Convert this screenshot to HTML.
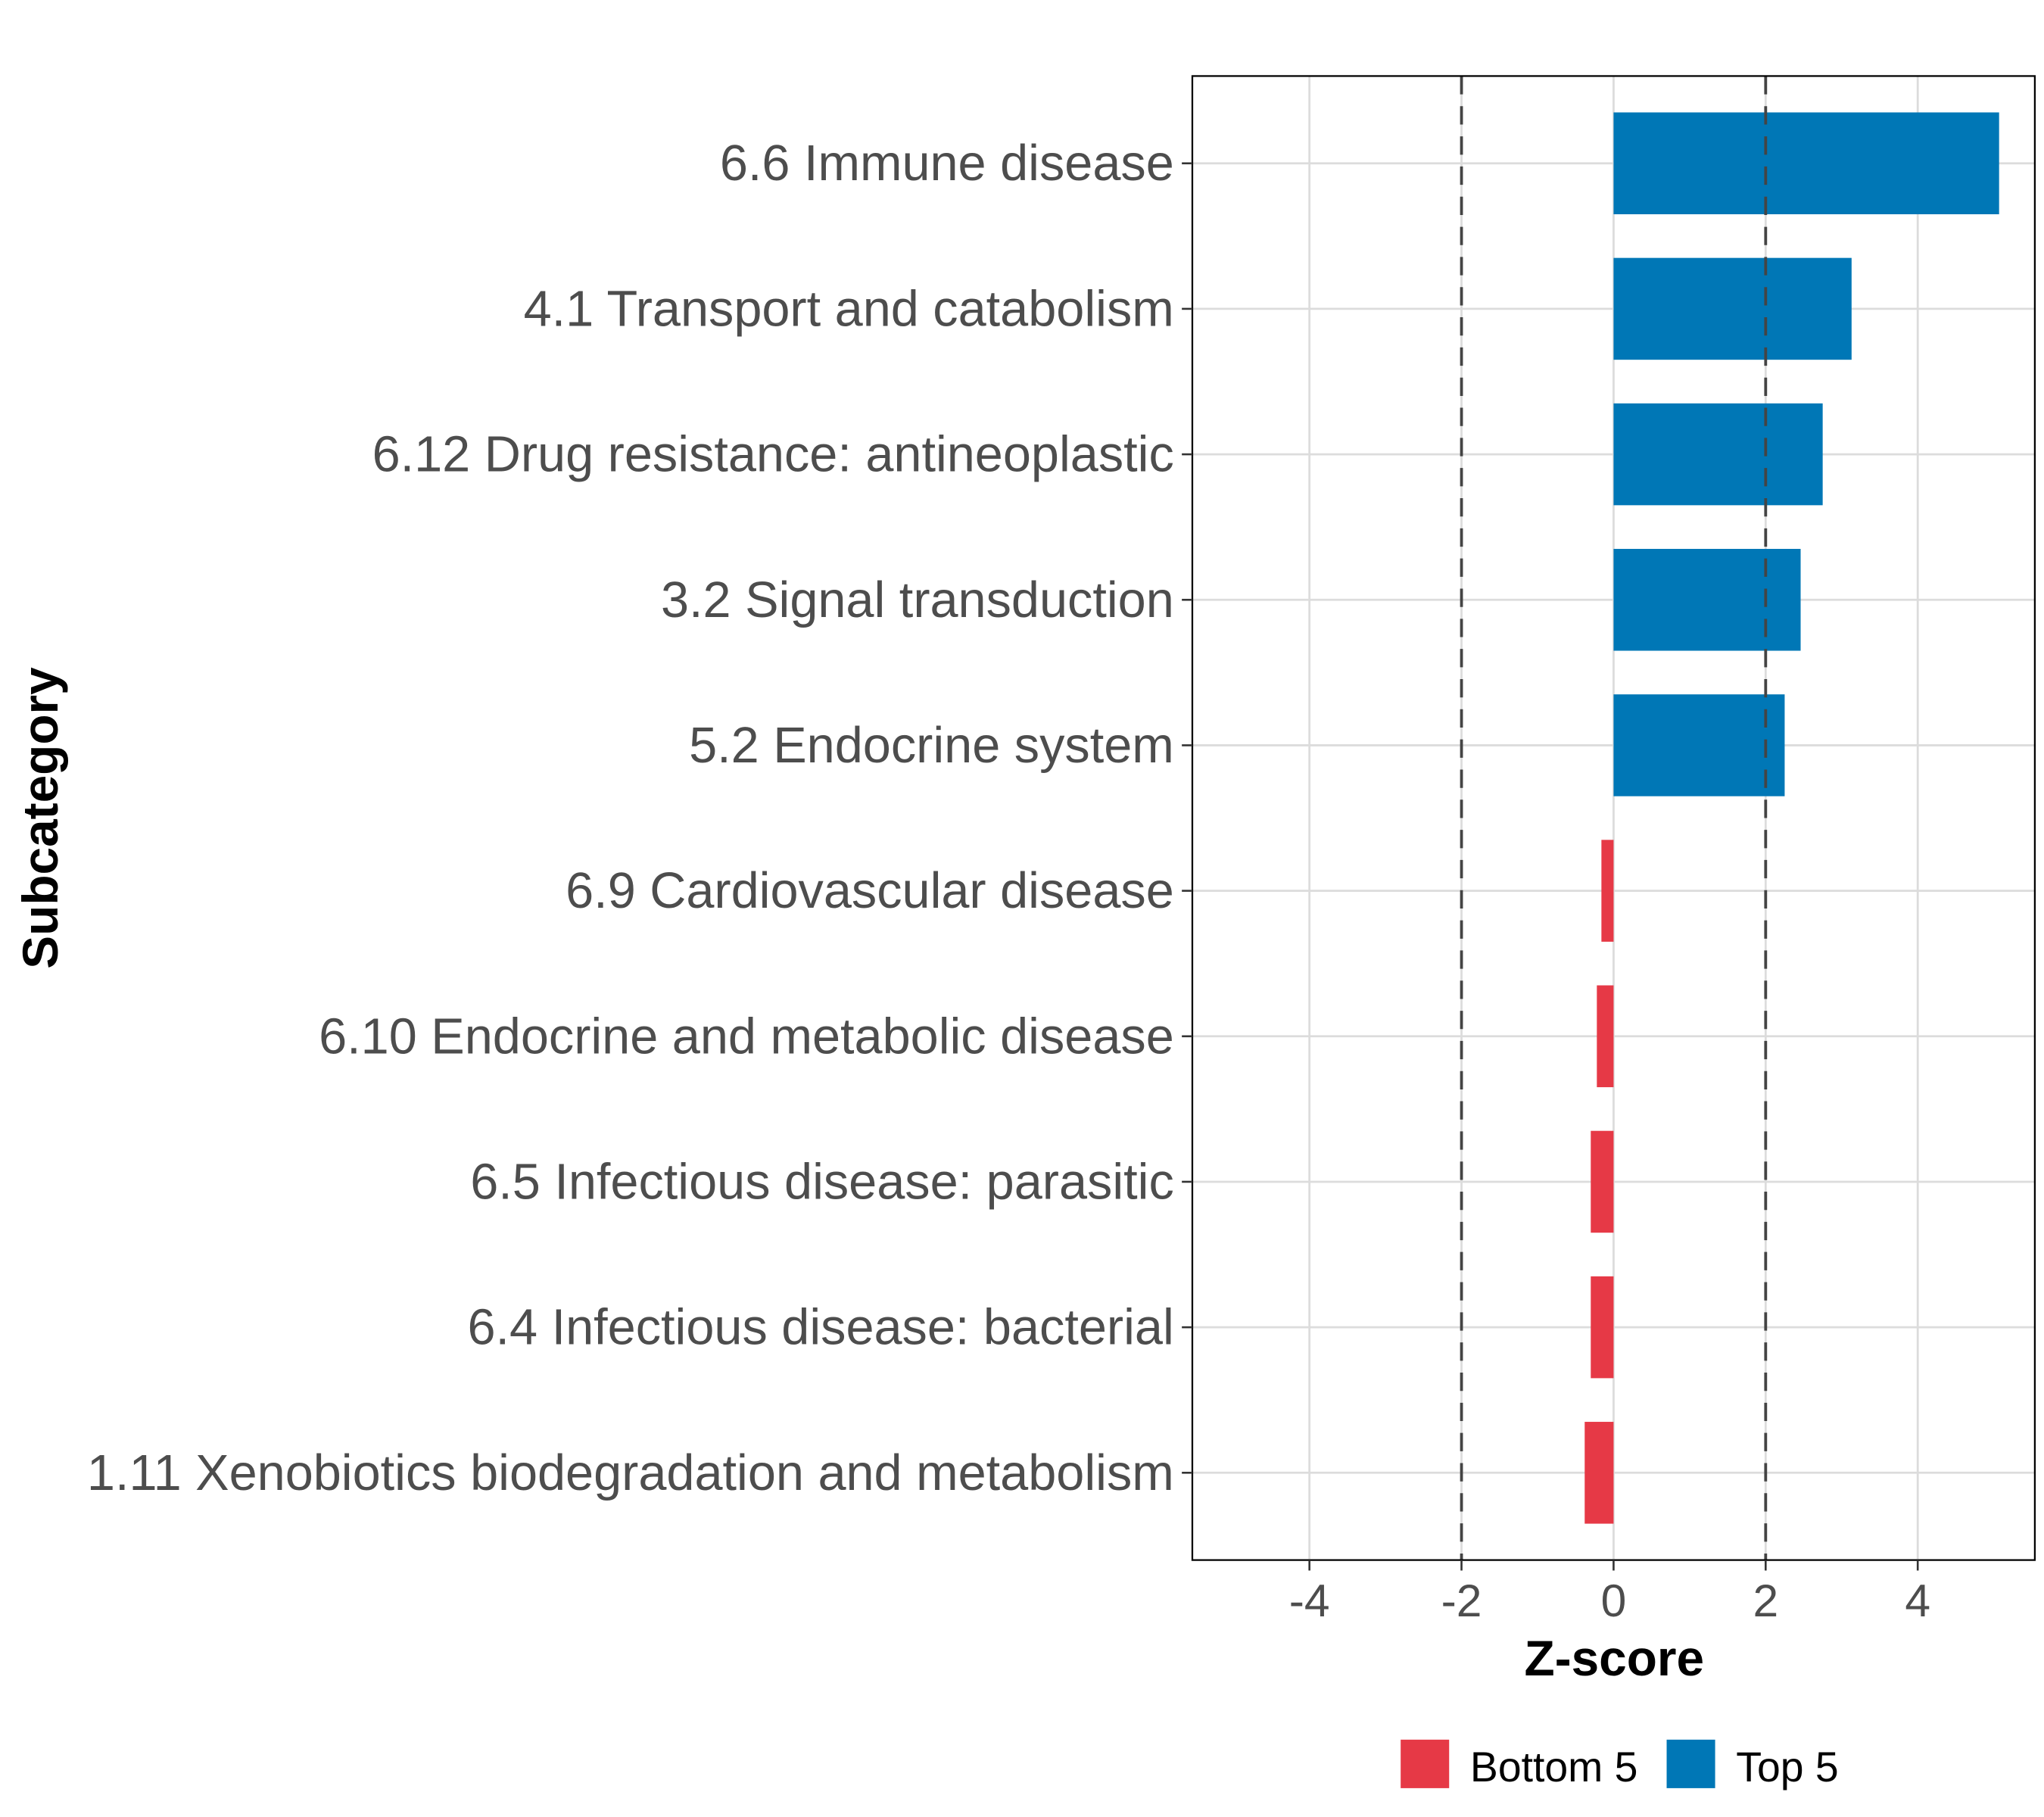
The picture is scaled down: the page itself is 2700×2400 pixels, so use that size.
<!DOCTYPE html>
<html><head><meta charset="utf-8"><style>
html,body{margin:0;padding:0;background:#fff;}
svg{display:block;font-family:"Liberation Sans",Arial,sans-serif;}
</style></head><body>
<svg id="chart" width="2700" height="2400" viewBox="0 0 1560 1386" preserveAspectRatio="none" xmlns="http://www.w3.org/2000/svg">
<rect width="1560" height="1386" fill="#fff"/>
<g id="grid"></g>
<g id="bars"></g>
<g id="refs"></g>
<rect x="910" y="58" width="643" height="1132" fill="none" stroke="#000" stroke-width="1.3"/>
<g id="yaxis"></g>
<g id="xaxis"></g>
<text x="1232" y="1278" text-anchor="middle" font-size="38" font-weight="bold" fill="#000">Z-score</text>
<text transform="translate(44,624) rotate(-90)" text-anchor="middle" font-size="38" font-weight="bold" fill="#000">Subcategory</text>
<g>
  <rect x="1069" y="1327" width="37" height="37" fill="#E63946"/>
  <text x="1122" y="1359" font-size="32" fill="#000">Bottom 5</text>
  <rect x="1272" y="1327" width="37" height="37" fill="#0077B6"/>
  <text x="1325" y="1359" font-size="32" fill="#000">Top 5</text>
</g>
</svg>
<script>
const categories = ["6.6 Immune disease","4.1 Transport and catabolism","6.12 Drug resistance: antineoplastic","3.2 Signal transduction","5.2 Endocrine system","6.9 Cardiovascular disease","6.10 Endocrine and metabolic disease","6.5 Infectious disease: parasitic","6.4 Infectious disease: bacterial","1.11 Xenobiotics biodegradation and metabolism"];
const zscores = [5.07, 3.13, 2.75, 2.46, 2.25, -0.16, -0.22, -0.30, -0.30, -0.38];
const groups = ["Top 5","Top 5","Top 5","Top 5","Top 5","Bottom 5","Bottom 5","Bottom 5","Bottom 5","Bottom 5"];
const xTicks = [-4, -2, 0, 2, 4];
const xTickLabels = ["-4","-2","0","2","4"];
const refLines = [-2, 2];

const NS = "http://www.w3.org/2000/svg";
const PL = 910, PR = 1553, PT = 58, PB = 1190;
const xMin = -5.54, xMax = 5.54;
function xs(v){ return PL + (v - xMin) / (xMax - xMin) * (PR - PL); }
const step = (PB - PT) / (categories.length + 0.2);
function ys(i){ return PT + step * 0.6 + i * step; }
const colors = {"Top 5":"#0077B6","Bottom 5":"#E63946"};
function mk(tag, attrs, parent){ const e = document.createElementNS(NS, tag); for (const k in attrs) e.setAttribute(k, attrs[k]); parent.appendChild(e); return e; }

const grid = document.getElementById('grid');
xTicks.forEach(t => {
  const l = mk('line', {x1: xs(t), x2: xs(t), y1: PT, y2: PB, stroke: '#dcdcdc', 'stroke-width': 1.6}, grid);
  
  
});
categories.forEach((c, i) => {
  const l = mk('line', {x1: PL, x2: PR, y1: ys(i), y2: ys(i), stroke: '#dcdcdc', 'stroke-width': 1.6}, grid);
  
  
});

const bars = document.getElementById('bars');
const bh = step * 0.7;
zscores.forEach((v, i) => {
  const x0 = xs(Math.min(0, v)), x1 = xs(Math.max(0, v));
  const r = mk('rect', {x: x0, y: ys(i) - bh / 2, width: x1 - x0, height: bh, fill: colors[groups[i]]}, bars);
  
  
});

const refs = document.getElementById('refs');
refLines.forEach(v => {
  const l = mk('line', {x1: xs(v), x2: xs(v), y1: PT, y2: PB, stroke: '#444', 'stroke-width': 2.2, 'stroke-dasharray': '14,9'}, refs);
  
  
});

const ya = document.getElementById('yaxis');
categories.forEach((c, i) => {
  const tk = mk('line', {x1: PL - 8, x2: PL, y1: ys(i), y2: ys(i), stroke: '#333', 'stroke-width': 1.5}, ya);
  
  
  const t = mk('text', {x: PL - 14, y: ys(i) + 13, 'text-anchor': 'end', 'font-size': 38.5, fill: '#4d4d4d'}, ya);
  t.textContent = c;
  
  
});

const xa = document.getElementById('xaxis');
xTicks.forEach((v, i) => {
  const tk = mk('line', {x1: xs(v), x2: xs(v), y1: PB, y2: PB + 8, stroke: '#333', 'stroke-width': 1.5}, xa);
  
  
  const t = mk('text', {x: xs(v), y: 1233, 'text-anchor': 'middle', 'font-size': 35, fill: '#4d4d4d'}, xa);
  t.textContent = xTickLabels[i];
  
  
});
</script>
</body></html>
